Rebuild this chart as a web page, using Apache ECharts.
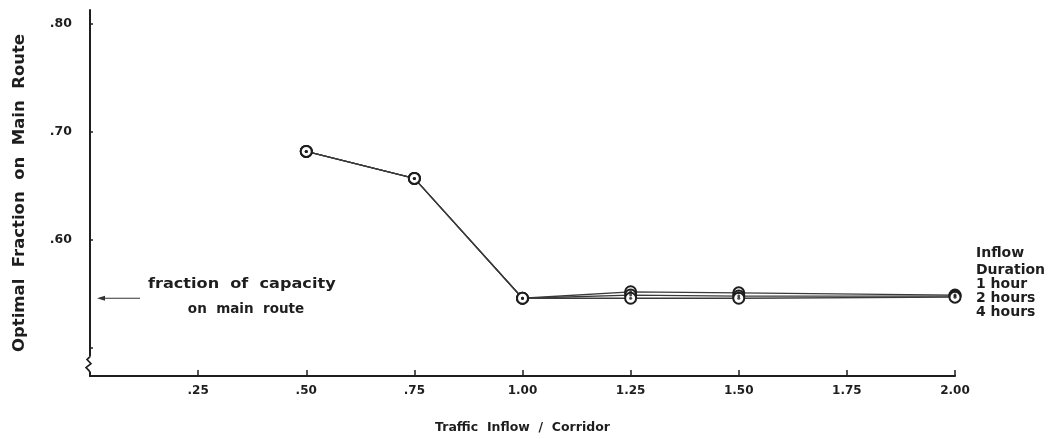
<!DOCTYPE html>
<html>
<head>
<meta charset="utf-8">
<script src="https://cdn.jsdelivr.net/npm/echarts@6/dist/echarts.min.js"></script>
<style>
html,body{margin:0;padding:0;background:#fff;}
#c{width:1049px;height:439px;}
</style>
</head>
<body>
<div id="c"></div>
<script>
// ---- data ----
const inflow = [0.5, 0.75, 1.0, 1.25, 1.5, 2.0];
const oneHour = [0.682, 0.657, 0.546, 0.552, 0.551, 0.549];
const twoHours = [0.682, 0.657, 0.546, 0.549, 0.548, 0.548];
const fourHours = [0.682, 0.657, 0.546, 0.546, 0.546, 0.547];
const seriesNames = ['1 hour', '2 hours', '4 hours'];
const yTickValues = [0.5, 0.6, 0.7, 0.8];
const yLabelValues = [0.6, 0.7, 0.8];
const xTickValues = [0.25, 0.5, 0.75, 1.0, 1.25, 1.5, 1.75, 2.0];
const capacityFraction = 0.546;
const legendLines = ['Inflow', 'Duration', '1 hour', '2 hours', '4 hours'];
const annotationLines = ['fraction  of  capacity', 'on  main  route'];

const FONT = '"DejaVu Sans", "Liberation Sans", Arial, sans-serif';
const INK = '#1e1e1e';

function pairs(vals) { return inflow.map((x, i) => [x, vals[i]]); }
const allSeries = [oneHour, twoHours, fourHours];

const chart = echarts.init(document.getElementById('c'), null, {renderer: 'canvas'});

const series = [];
allSeries.forEach((vals, i) => {
  series.push({
    name: seriesNames[i],
    type: 'line',
    data: pairs(vals),
    symbol: 'circle',
    symbolSize: 11,
    lineStyle: {color: '#3a3a3a', width: 1.3},
    itemStyle: {color: '#fff', borderColor: INK, borderWidth: 2},
    z: 3
  });
  series.push({
    type: 'scatter',
    data: pairs(vals),
    symbol: 'circle',
    symbolSize: 3,
    itemStyle: {color: INK},
    z: 4,
    silent: true
  });
});

chart.setOption({
  animation: false,
  backgroundColor: '#fff',
  grid: {left: 90, right: 94, top: 10, bottom: 63, containLabel: false, outerBoundsMode: 'none'},
  xAxis: {
    type: 'value',
    min: 0, max: 2, interval: 0.25,
    name: 'Traffic  Inflow  /  Corridor',
    nameLocation: 'middle',
    nameGap: 45,
    nameTextStyle: {fontFamily: FONT, fontWeight: 'bold', fontSize: 12.5, color: INK},
    axisLine: {show: true, lineStyle: {color: INK, width: 2}},
    axisTick: {show: true, inside: true, length: 6, customValues: xTickValues, lineStyle: {color: INK, width: 1.5}},
    axisLabel: {
      customValues: xTickValues,
      margin: 9,
      fontFamily: FONT, fontWeight: 'bold', fontSize: 12, color: INK,
      formatter: v => v < 1 ? v.toFixed(2).replace(/^0/, '') : v.toFixed(2)
    },
    splitLine: {show: false}
  },
  yAxis: {
    type: 'value',
    min: 0.474, max: 0.813,
    name: 'Optimal  Fraction  on  Main  Route',
    nameLocation: 'middle',
    nameGap: 62,
    nameTextStyle: {fontFamily: FONT, fontWeight: 'bold', fontSize: 16.5, color: INK},
    axisLine: {show: true, lineStyle: {color: INK, width: 2}},
    axisTick: {show: true, inside: true, length: 3, customValues: yTickValues, lineStyle: {color: INK, width: 1.5}},
    axisLabel: {
      customValues: yLabelValues,
      margin: 18,
      fontFamily: FONT, fontWeight: 'bold', fontSize: 12.5, color: INK,
      formatter: v => v.toFixed(2).replace(/^0/, '')
    },
    splitLine: {show: false}
  },
  series: series
});

// ---- decorations: axis break, annotation arrow, legend text ----
const p = (x, y) => chart.convertToPixel({gridIndex: 0}, [x, y]);
const axisX = p(0, 0.5)[0];
const breakTop = p(0, 0.492)[1];
const breakBot = p(0, 0.478)[1];
const arrowY = p(0, capacityFraction)[1];
const rightX = p(2, 0.5)[0];

const graphics = [
  {type: 'rect', shape: {x: axisX - 4, y: breakTop, width: 8, height: breakBot - breakTop}, style: {fill: '#fff'}, z: 10},
  {type: 'polyline', shape: {points: [
    [axisX, breakTop], [axisX - 3, breakTop + 3], [axisX + 1, breakTop + 7], [axisX - 4, breakTop + 11], [axisX - 1, breakTop + 14], [axisX, breakBot + 1]
  ]}, style: {stroke: INK, lineWidth: 1.6, fill: null}, z: 11},
  {type: 'line', shape: {x1: axisX + 50, y1: arrowY, x2: axisX + 10, y2: arrowY}, style: {stroke: '#333', lineWidth: 1.2}, z: 10},
  {type: 'polygon', shape: {points: [[axisX + 7, arrowY], [axisX + 15, arrowY - 2.5], [axisX + 15, arrowY + 2.5]]}, style: {fill: '#333'}, z: 10},
  {type: 'text', x: 148, y: arrowY - 14, scaleX: 1.15, style: {text: annotationLines[0], x: 0, y: 0, textVerticalAlign: 'middle', font: 'bold 14px ' + FONT, fill: INK}, z: 10},
  {type: 'text', style: {text: annotationLines[1], x: 246, y: arrowY + 11, textAlign: 'center', textVerticalAlign: 'middle', font: 'bold 13.5px ' + FONT, fill: INK}, z: 10}
];
const legendYs = [253, 270, 284, 298, 312];
legendLines.forEach((t, i) => {
  graphics.push({type: 'text', style: {text: t, x: rightX + 21, y: legendYs[i], textVerticalAlign: 'middle', font: 'bold 14px ' + FONT, fill: INK}, z: 10});
});
chart.setOption({graphic: graphics});
</script>
</body>
</html>
